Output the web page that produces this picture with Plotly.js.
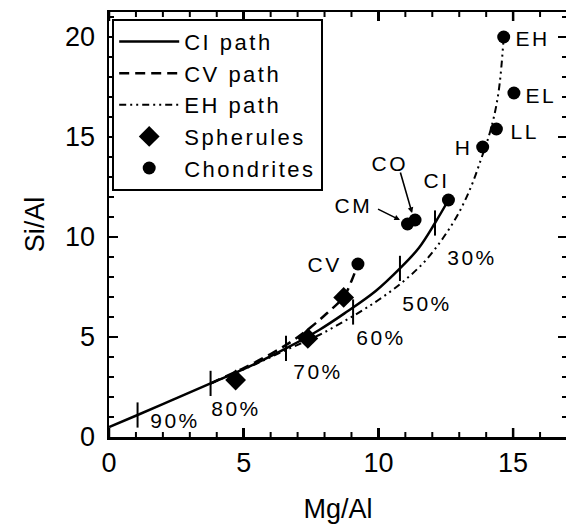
<!DOCTYPE html>
<html>
<head>
<meta charset="utf-8">
<script src="https://cdn.plot.ly/plotly-3.0.1.min.js"></script>
<style>
html,body{margin:0;padding:0;overflow:hidden;background:#fff}
#chart{width:570px;height:527px}
text.legendtext{letter-spacing:2.5px}
g.annotation-text-g text{letter-spacing:2.5px}
</style>
</head>
<body>
<div id="chart"></div>
<script>
// ---- data ----
const ciPathX = [0, 1.06, 2.4, 3.77, 5.2, 6.57, 7.8, 8.74, 9.9, 10.8, 11.5, 12.1, 12.6];
const ciPathY = [0.5, 1.1, 1.88, 2.68, 3.52, 4.43, 5.35, 6.18, 7.3, 8.43, 9.45, 10.7, 11.85];
const cvPathX = [3.77, 5.0, 6.0, 6.8, 7.5, 8.1, 8.71, 9.0, 9.24];
const cvPathY = [2.68, 3.45, 4.15, 4.8, 5.5, 6.2, 7.0, 7.8, 8.65];
const ehPathX = [3.77, 5.2, 6.57, 7.8, 9.0, 10.0, 10.9, 11.7, 12.4, 13.0, 13.45, 13.8, 14.1, 14.32, 14.47, 14.57, 14.65];
const ehPathY = [2.68, 3.5, 4.35, 5.1, 6.0, 6.85, 7.75, 8.75, 9.95, 11.25, 12.55, 13.85, 15.05, 16.2, 17.35, 18.6, 20.0];
const spheruleX = [4.70, 7.38, 8.71];
const spheruleY = [2.85, 4.93, 6.98];
const chondriteNames = ['EH', 'EL', 'LL', 'H', 'CI', 'CO', 'CM', 'CV'];
const chondriteX = [14.65, 15.03, 14.38, 13.87, 12.6, 11.36, 11.08, 9.24];
const chondriteY = [20.0, 17.2, 15.4, 14.5, 11.85, 10.85, 10.65, 8.65];
const labelX = [15.72, 16.05, 15.42, 13.16, 12.14, 10.42, 9.06, 8.0];
const labelY = [19.95, 17.1, 15.27, 14.5, 12.85, 13.7, 11.6, 8.65];
const pctTickX = [1.06, 3.77, 6.57, 9.06, 10.8, 12.1];
const pctTickY = [1.1, 2.68, 4.43, 6.25, 8.43, 10.7];
const pctText = ['90%', '80%', '70%', '60%', '50%', '30%'];
const pctX = [2.46, 4.7, 7.75, 10.1, 11.8, 13.47];
const pctY = [0.85, 1.43, 3.27, 5.0, 6.7, 9.0];
// leader lines from label to chondrite
const leaderNames = ['CO', 'CM'];
const leaderTailX = [10.8, 9.93];
const leaderTailY = [13.3, 11.43];
const leaderHeadX = [11.25, 10.8];
const leaderHeadY = [11.2, 10.85];
const xRange = [0, 17];
const yRange = [0, 21.25];
const xMajorStep = 5;

const FONT = 'Liberation Sans, Arial, Helvetica, sans-serif';

const traces = [
  {x: ciPathX, y: ciPathY, mode: 'lines', name: 'CI path', line: {color: '#000', width: 2.5, shape: 'spline'}},
  {x: cvPathX, y: cvPathY, mode: 'lines', name: 'CV path', line: {color: '#000', width: 2.5, dash: '10px,6px', shape: 'spline'}},
  {x: ehPathX, y: ehPathY, mode: 'lines', name: 'EH path', line: {color: '#000', width: 2, dash: '7px,4px,2px,4px,2px,4px', shape: 'spline'}},
  {x: spheruleX, y: spheruleY, mode: 'markers', name: 'Spherules', marker: {symbol: 'diamond', size: 16, color: '#000'}},
  {x: chondriteX, y: chondriteY, mode: 'markers', name: 'Chondrites', marker: {symbol: 'circle', size: 13, color: '#000'}},
  {x: pctTickX, y: pctTickY, mode: 'markers', showlegend: false, hoverinfo: 'skip',
   marker: {symbol: 'line-ns-open', size: 18, color: '#000', line: {color: '#000', width: 2}}}
];

const annotations = [];
chondriteNames.forEach((n, i) => {
  annotations.push({x: labelX[i], y: labelY[i], xref: 'x', yref: 'y', text: n, showarrow: false,
    font: {family: FONT, size: 21, color: '#000'}});
});
pctText.forEach((t, i) => {
  annotations.push({x: pctX[i], y: pctY[i], xref: 'x', yref: 'y', text: t, showarrow: false,
    font: {family: FONT, size: 21, color: '#000'}});
});
leaderNames.forEach((n, i) => {
  annotations.push({x: leaderHeadX[i], y: leaderHeadY[i], ax: leaderTailX[i], ay: leaderTailY[i],
    xref: 'x', yref: 'y', axref: 'x', ayref: 'y', text: '', showarrow: true,
    arrowhead: 2, arrowsize: 0.7, arrowwidth: 1.6, arrowcolor: '#000', standoff: 0, startstandoff: 0});
});

// x-axis tick marks (inside, bottom and top) as pixel-sized shapes on the x scale
const shapes = [];
for (let v = Math.ceil(xRange[0]); v <= xRange[1]; v++) {
  const major = v % xMajorStep === 0;
  const len = major ? 9 : 5;
  const w = major ? 2.5 : 2;
  shapes.push({type: 'line', layer: 'above', xref: 'x', yref: 'paper', x0: v, x1: v, ysizemode: 'pixel', yanchor: 0,
    y0: 0, y1: len, line: {color: '#000', width: w}});
  shapes.push({type: 'line', layer: 'above', xref: 'x', yref: 'paper', x0: v, x1: v, ysizemode: 'pixel', yanchor: 1,
    y0: 0, y1: -len, line: {color: '#000', width: w}});
}

const layout = {
  width: 570, height: 527,
  margin: {l: 109, r: 3, t: 12, b: 90},
  paper_bgcolor: '#fff', plot_bgcolor: '#fff',
  showlegend: true,
  legend: {x: 0.007, y: 0.984, xanchor: 'left', yanchor: 'top', bgcolor: '#fff',
    bordercolor: '#000', borderwidth: 2, itemwidth: 60,
    font: {family: FONT, size: 22, color: '#000'}, tracegroupgap: 0},
  xaxis: {
    range: xRange, tickmode: 'linear', tick0: 0, dtick: xMajorStep,
    showgrid: false, zeroline: false, showline: true, linecolor: '#000', linewidth: 2.5,
    mirror: 'ticks', ticks: 'inside', ticklen: 9, tickwidth: 2.5, tickcolor: '#000',
    tickfont: {family: FONT, size: 27, color: '#000'},
    title: {text: 'Mg/Al', font: {family: FONT, size: 27, color: '#000'}, standoff: 22}
  },
  yaxis: {
    range: yRange, tickmode: 'linear', tick0: 0, dtick: 5, ticklabelstandoff: 6,
    showgrid: false, zeroline: false, showline: true, linecolor: '#000', linewidth: 2.5,
    mirror: 'ticks', ticks: 'inside', ticklen: 9, tickwidth: 2.5, tickcolor: '#000',
    tickfont: {family: FONT, size: 27, color: '#000'},
    minor: {ticks: 'inside', ticklen: 5, tickwidth: 2, tickcolor: '#000', dtick: 1},
    title: {text: 'Si/Al', font: {family: FONT, size: 27, color: '#000'}}
  },
  shapes: shapes,
  annotations: annotations,
  font: {family: FONT, color: '#000'}
};

Plotly.newPlot('chart', traces, layout, {displayModeBar: false, staticPlot: true});
</script>
</body>
</html>
